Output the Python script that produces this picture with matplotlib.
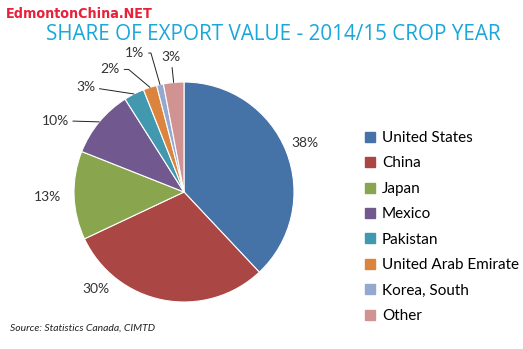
import numpy as np
import matplotlib
matplotlib.use('Agg')
import matplotlib.pyplot as plt
from matplotlib.lines import Line2D
from matplotlib import font_manager

# ---- data ----
countries = ['United States', 'China', 'Japan', 'Mexico', 'Pakistan',
             'United Arab Emirate', 'Korea, South', 'Other']
shares = [38, 30, 13, 10, 3, 2, 1, 3]
colors = ['#4572A7', '#AA4643', '#89A54E', '#71588F', '#4198AF',
          '#DB843D', '#93A9CF', '#D19392']

# label placement: (angle in deg, radius as fraction of pie radius)
label_pos = [(22, 1.19), (228, 1.19), (182, 1.24), (151, 1.34),
             (133, 1.31), (121, 1.30), (109.5, 1.34), (95.5, 1.23)]
# leader line style per label (None = no leader)
leader = [None, None, None, 'arc3', 'arc3',
          'angle,angleA=0,angleB=140,rad=0', 'angle,angleA=0,angleB=106,rad=0',
          'arc3']

W, H = 523, 349
fig = plt.figure(figsize=(W / 100, H / 100), dpi=100)
fig.patch.set_facecolor('white')

# pie axes: centre (184,192) px, radius 110 px
cx, cy, R = 184, 192, 110
ax = fig.add_axes([(cx - R) / W, (H - cy - R) / H, 2 * R / W, 2 * R / H])
wedges, _ = ax.pie(shares, colors=colors, startangle=90, counterclock=False,
                   radius=1.0, wedgeprops=dict(linewidth=0.8, edgecolor='white'))
ax.set_xlim(-1, 1)
ax.set_ylim(-1, 1)
ax.set_aspect('equal')
ax.axis('off')

for w, s, (ang, r), ld in zip(wedges, shares, label_pos, leader):
    tx = r * np.cos(np.radians(ang))
    ty = r * np.sin(np.radians(ang))
    mid = np.radians((w.theta1 + w.theta2) / 2)
    if ld:
        ax.annotate('%d%%' % s, xy=(np.cos(mid), np.sin(mid)), xytext=(tx, ty),
                    ha='center', va='center', fontsize=10, family='Lato',
                    color='#333333', annotation_clip=False,
                    arrowprops=dict(arrowstyle='-', color='#222222', lw=0.7,
                                    shrinkA=1, shrinkB=0, connectionstyle=ld))
    else:
        ax.text(tx, ty, '%d%%' % s, ha='center', va='center', fontsize=10,
                family='Lato', color='#333333', clip_on=False)

# legend
handles = [Line2D([], [], marker='s', linestyle='none', markersize=7,
                  markerfacecolor=c, markeredgecolor=c) for c in colors]
fig.legend(handles, countries, loc='upper left',
           bbox_to_anchor=(365 / W, 1 - 131 / H), frameon=False,
           prop=dict(family='Lato', size=11), labelspacing=0.75,
           handlelength=0.7, handletextpad=0.4, borderpad=0, borderaxespad=0)

# title / watermark / source
fig.text(273 / W, 1 - 35 / H, 'SHARE OF EXPORT VALUE - 2014/15 CROP YEAR',
         ha='center', va='center', fontsize=14.9, family='Open Sans',
         color='#1AA7D9')

# condensed bold face for the site mark, if one is around
narrow = None
for f in font_manager.fontManager.ttflist:
    if ('Narrow' in f.name or 'Condensed' in f.fname) and f.weight in (700, 'bold') \
            and f.style == 'normal':
        narrow = f.fname
        break
if narrow:
    wm_font = font_manager.FontProperties(fname=narrow, size=10.3)
else:
    wm_font = font_manager.FontProperties(family='DejaVu Sans', weight='bold', size=9)
fig.text(6 / W, 1 - 14 / H, 'EdmontonChina.NET', ha='left', va='center',
         fontproperties=wm_font, color='#E8203A')
fig.text(10 / W, 1 - 328 / H, 'Source: Statistics Canada, CIMTD',
         ha='left', va='center', fontsize=7.5, family='Lato',
         style='italic', color='#222222')

fig.savefig('out.png', dpi=100)
